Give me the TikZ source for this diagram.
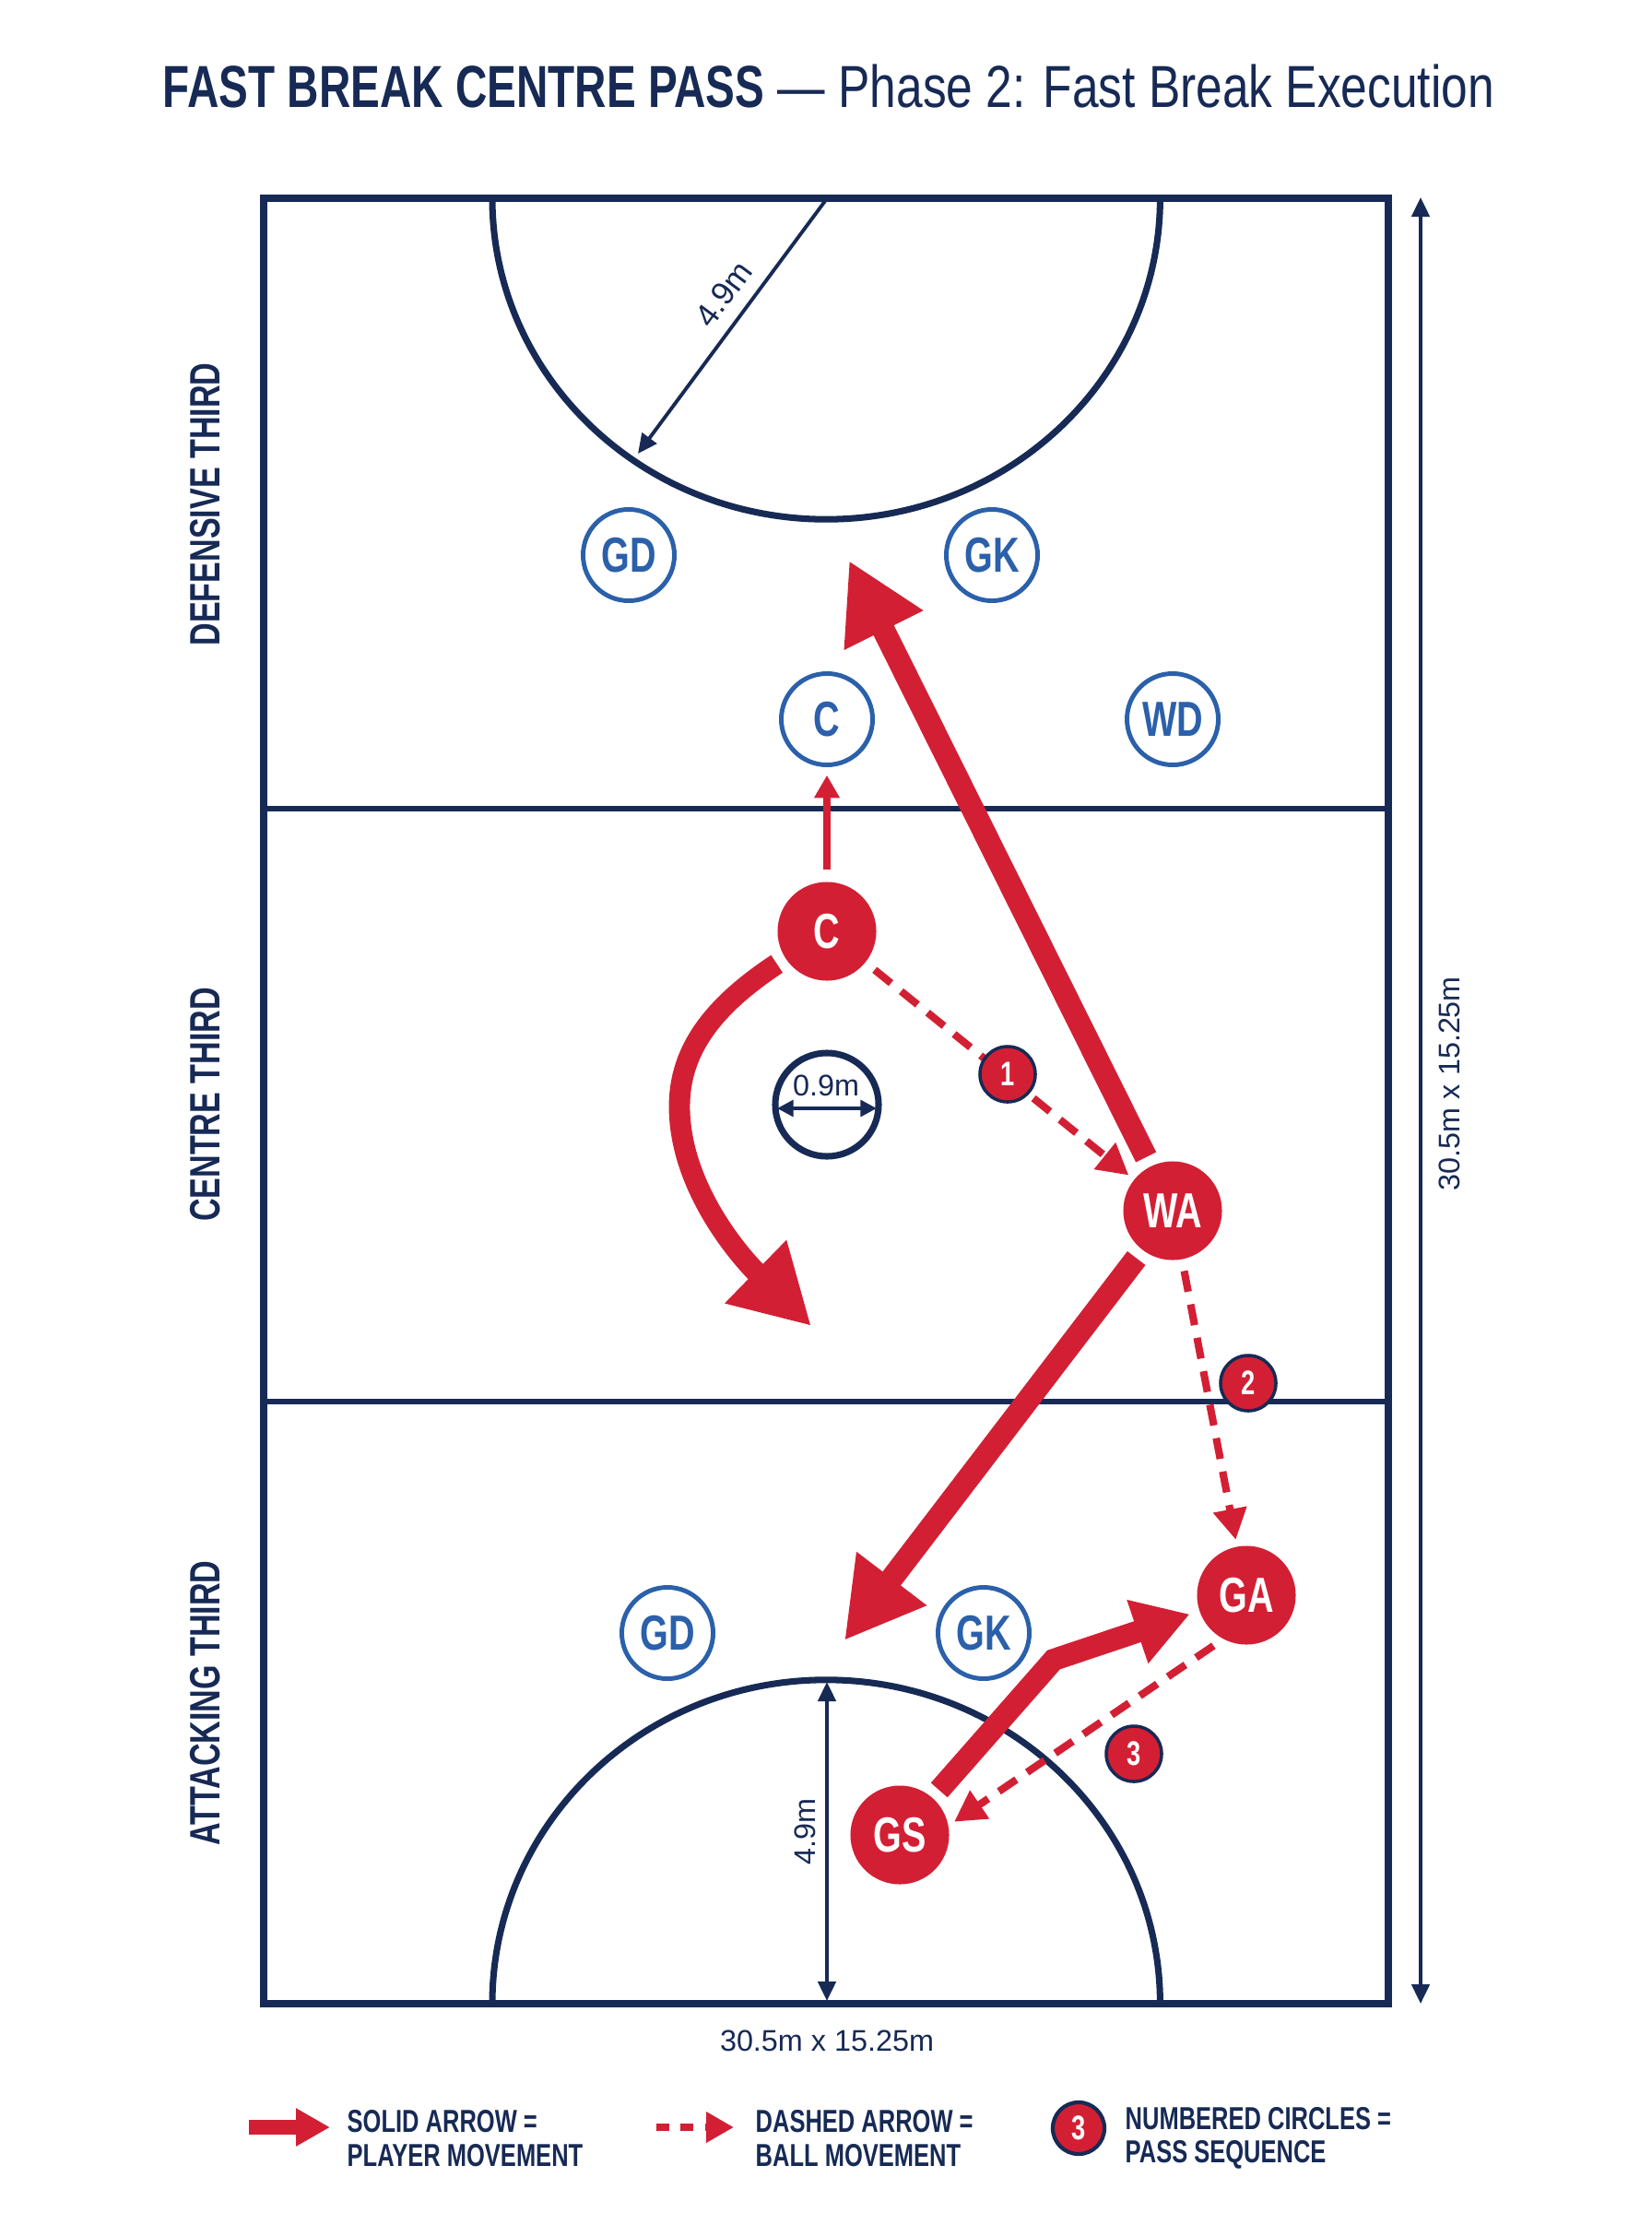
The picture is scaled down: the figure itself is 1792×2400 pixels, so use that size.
\documentclass[tikz,border=0pt]{standalone}
\usepackage{fontspec}
\setmainfont{Liberation Sans}
\newfontfamily\narrowfont[FakeStretch=0.74]{Liberation Sans}
\newfontfamily\headfont[FakeStretch=0.8]{Liberation Sans}
\usetikzlibrary{arrows.meta}

\definecolor{navy}{HTML}{172A55}
\definecolor{plblue}{HTML}{2B60AA}
\definecolor{netred}{HTML}{D31F34}

\begin{document}
\begin{tikzpicture}[x=0.01cm, y=-0.01cm,
  court/.style={draw=navy, line width=2.1pt},
  player/.style={circle, draw=plblue, line width=1.4pt, fill=white, text=plblue, minimum size=0.99cm, inner sep=0pt, font=\narrowfont\bfseries\fontsize{15.2}{18}\selectfont},
  mover/.style={circle, fill=netred, text=white, minimum size=1.07cm, inner sep=0pt, font=\narrowfont\bfseries\fontsize{15.2}{18}\selectfont},
  passnum/.style={circle, fill=netred, draw=navy, line width=1pt, text=white, minimum size=0.6cm, inner sep=0pt, font=\narrowfont\bfseries\fontsize{10.5}{12}\selectfont},
  zone/.style={rotate=90, text=navy, font=\narrowfont\bfseries\fontsize{13.1}{15}\selectfont},
  dimtext/.style={text=navy, inner sep=1pt, font=\fontsize{9.2}{11}\selectfont},
  dimline/.style={draw=navy, line width=1.1pt},
  keytext/.style={anchor=west, align=left, text=navy, inner sep=0pt, font=\narrowfont\bfseries\fontsize{9.8}{10.3}\selectfont},
  run/.style={draw=netred, line width=7pt, shorten <=3pt, -{Triangle[length=24pt,width=25.5pt]}},
  pass/.style={draw=netred, line width=2.3pt, dash pattern=on 6.5pt off 4pt, shorten <=3.5pt, shorten >=2pt, -{Triangle[length=9.5pt,width=10pt]}}
]
\useasboundingbox (0,0) rectangle (1792,2400);
\fill[white] (0,0) rectangle (1792,2400);

\node[anchor=base west, text=navy, inner sep=0pt, font=\headfont\fontsize{18.3}{21}\selectfont] (title) at (176,117)
  {{\narrowfont\bfseries FAST BREAK CENTRE PASS} — Phase 2: Fast Break Execution};

% court
\draw[court] (286,215) rectangle (1506,2173);
\draw[court, line width=1.6pt] (286,877) -- (1506,877);
\draw[court, line width=1.6pt] (286,1520) -- (1506,1520);
\draw[court, line width=2pt] (534,215) arc[start angle=180, end angle=360, x radius=3.62cm, y radius=3.48cm];
\draw[court, line width=2pt] (534,2173) arc[start angle=180, end angle=0, x radius=3.62cm, y radius=3.51cm];
\draw[court, line width=2pt] (897,1198) circle[radius=0.56cm];

\node[zone] (defzone) at (223,547) {DEFENSIVE THIRD};
\node[zone] (cenzone) at (223,1198) {CENTRE THIRD};
\node[zone] (attzone) at (223,1847) {ATTACKING THIRD};

% measurements
\coordinate (topgoal) at (895,218);
\coordinate (topedge) at (692,492);
\draw[dimline, -{Triangle[length=6pt,width=5.5pt]}] (topgoal) -- node[dimtext, font=\fontsize{10}{12}\selectfont, sloped, above=3pt, pos=0.43] (toplbl) {4.9m} (topedge);
\coordinate (botedge) at (897,2170);
\coordinate (botgoal) at (897,1824);
\draw[dimline, {Triangle[length=6pt,width=5.5pt]}-{Triangle[length=6pt,width=5.5pt]}] (botedge) -- node[dimtext, sloped, above=2pt, pos=0.53] (botlbl) {4.9m} (botgoal);
\coordinate (ccleft) at (843,1202);
\coordinate (ccright) at (951,1202);
\draw[dimline, {Triangle[length=5pt,width=5pt]}-{Triangle[length=5pt,width=5pt]}] (ccleft) -- (ccright);
\node[dimtext] (cclbl) at (896,1177) {0.9m};
\coordinate (lentop) at (1541,214);
\coordinate (lenbot) at (1541,2173);
\draw[dimline, {Triangle[length=6pt,width=5.5pt]}-{Triangle[length=6pt,width=5.5pt]}] (lentop) -- (lenbot);
\node[dimtext, rotate=90] (lenlbl) at (1572,1175) {30.5m x 15.25m};
\node[dimtext] (widlbl) at (897,2213) {30.5m x 15.25m};

% players
\node[player] (gdtop) at (682,602) {GD};
\node[player] (gktop) at (1076,602) {GK};
\node[player] (cblue) at (897,780) {C};
\node[player] (wd) at (1272,780) {WD};
\node[player] (gdbot) at (724,1771) {GD};
\node[player] (gkbot) at (1067,1771) {GK};
\node[mover] (cred) at (897,1010) {C};
\node[mover] (wa) at (1272,1313) {WA};
\node[mover] (ga) at (1352,1730) {GA};
\node[mover] (gs) at (976,1990) {GS};

% player movement
\coordinate (waup) at (921,608);
\coordinate (wadown) at (916,1779);
\coordinate (cloopmid) at (737,1200);
\coordinate (cloop) at (880,1438);
\coordinate (gsbend) at (1143,1800);
\draw[netred, line width=2.5pt, shorten <=3.5pt, shorten >=2.5pt, -{Triangle[length=7pt,width=7.5pt]}] (cred) -- (cblue);
\draw[run] (wa) -- (waup);
\draw[run] (wa) -- (wadown);
\draw[run, line width=6.5pt] (cred.213) .. controls (772,1092) and (737,1140) .. (cloopmid)
  .. controls (737,1285) and (800,1360) .. (cloop);
\draw[run, line width=6.8pt, shorten >=3pt, -{Triangle[length=17pt,width=19.5pt]}] (gs) -- (gsbend) -- (ga);

% ball movement
\draw[pass] (cred) -- (wa);
\draw[pass] (wa) -- (ga);
\draw[pass] (ga.242) -- (gs.11);
\node[passnum] (pass1) at (1093,1165) {1};
\node[passnum] (pass2) at (1354,1500) {2};
\node[passnum] (pass3) at (1230,1902) {3};

% key
\coordinate (keyruna) at (270,2307);
\coordinate (keyrunb) at (358,2307);
\draw[netred, line width=4.3pt, -{Triangle[length=10.5pt,width=11pt]}] (keyruna) -- (keyrunb);
\node[keytext] (keyrun) at (376,2319) {SOLID ARROW =\\PLAYER MOVEMENT};
\coordinate (keypassa) at (712,2307);
\coordinate (keypassb) at (796,2307);
\draw[netred, line width=2.2pt, dash pattern=on 4pt off 3.5pt, -{Triangle[length=8.5pt,width=9pt]}] (keypassa) -- (keypassb);
\node[keytext] (keypass) at (819,2319) {DASHED ARROW =\\BALL MOVEMENT};
\node[passnum, line width=1.2pt, minimum size=0.56cm] (keynum) at (1170,2308) {3};
\node[keytext] (keynumtxt) at (1220,2319) {NUMBERED CIRCLES =\\PASS SEQUENCE};
\end{tikzpicture}
\end{document}
